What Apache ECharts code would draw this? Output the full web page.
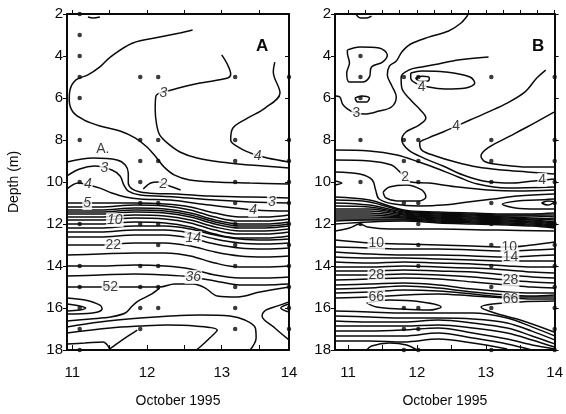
<!DOCTYPE html>
<html>
<head>
<meta charset="utf-8">
<script src="https://cdn.jsdelivr.net/npm/echarts@6.0.0/dist/echarts.min.js"></script>
<style>
  html, body { margin: 0; padding: 0; background: #fff; }
  #chart { width: 566px; height: 414px; }
</style>
</head>
<body>
<div id="chart"></div>
<script>
// ---------- panel A (left) ----------
const aTickDays = [11, 12, 13, 13.9];
const aTickText = ["11", "12", "13", "14"];
const aMinorDays = [11, 11.5, 12, 12.5, 13, 13.5];

// contours that wander, as [day, depth]
const aTopWiggle = [[11.21, 2.14], [11.28, 2.19], [11.37, 2.14]];
const aOuter3 = [[12.61, 2.76], [12.44, 2.9], [12.17, 3.1], [11.81, 3.38], [11.51, 4.05], [11.37, 4.52], [11.21, 4.9], [11.05, 5.14], [10.97, 5.62], [10.96, 6.1], [11.01, 6.67], [11.16, 7.05], [11.37, 7.33], [11.64, 7.57], [11.84, 7.9], [12.0, 8.33], [12.12, 8.81], [12.23, 9.29], [12.37, 9.67], [12.57, 9.9], [12.91, 10.0], [13.38, 10.05], [13.9, 10.1]];
const aInner3 = [[13.0, 3.95], [13.08, 4.43], [13.12, 4.86], [13.08, 5.05], [12.71, 5.29], [12.33, 5.62], [12.12, 5.9], [12.11, 6.57], [12.13, 7.29], [12.17, 7.76], [12.27, 8.14], [12.44, 8.57], [12.67, 8.86], [12.98, 9.05], [13.38, 9.19], [13.9, 9.33]];
const aRight4 = [[13.71, 4.29], [13.69, 4.76], [13.78, 5.76], [13.58, 6.48], [13.35, 6.95], [13.15, 7.43], [13.12, 8.0], [13.24, 8.38], [13.42, 8.67], [13.61, 8.86], [13.9, 9.05]];
const aLineA = [[10.93, 9.05], [11.28, 8.86], [11.6, 8.95], [11.71, 9.19], [11.75, 9.57], [11.75, 10.05], [11.8, 10.33], [11.91, 10.48], [12.1, 10.55], [12.4, 10.57], [12.84, 10.67], [13.38, 10.71], [13.9, 10.76]];
const aLeft3 = [[10.93, 9.71], [11.1, 9.38], [11.3, 9.24], [11.53, 9.43], [11.64, 9.71], [11.69, 10.14], [11.75, 10.43], [11.91, 10.62], [12.37, 10.71], [12.91, 10.86], [13.38, 10.95], [13.9, 11.0]];
const aLeft4 = [[10.93, 10.33], [11.08, 10.05], [11.21, 10.14], [11.37, 10.29], [11.53, 10.52], [11.71, 10.71], [11.91, 10.81], [12.31, 10.86], [12.84, 11.1], [13.45, 11.33], [13.9, 11.38]];
const aTwo = [[11.95, 10.33], [12.05, 10.05], [12.15, 10.0], [12.3, 10.19], [12.45, 10.38]];
const a52 = [[10.93, 15.0], [11.37, 15.0], [11.91, 15.0], [12.17, 15.0], [12.37, 14.86], [12.62, 14.86], [12.78, 15.05], [12.94, 15.43], [13.21, 15.48], [13.51, 15.24], [13.9, 15.0]];
const aDown52 = [[12.17, 15.05], [12.04, 15.38], [11.88, 15.67], [11.79, 15.95], [11.71, 16.24], [11.51, 16.43], [11.24, 16.52], [10.93, 16.62]];
const aEyeOuter = [[10.93, 15.52], [11.17, 15.62], [11.37, 15.86], [11.4, 16.05], [11.27, 16.24], [10.93, 16.29]];
const aEyeInner = [[10.93, 15.81], [11.1, 15.9], [11.18, 16.0], [11.1, 16.1], [10.93, 16.14]];
const aLowC = [[10.93, 16.9], [11.37, 16.67], [11.91, 16.48], [12.31, 16.38], [12.71, 16.33], [13.11, 16.38], [13.31, 16.57], [13.45, 16.95], [13.46, 17.43], [13.38, 18.0]];
const aLowD = [[10.93, 17.19], [11.51, 16.95], [11.91, 16.86], [12.27, 16.81], [12.64, 16.86], [12.94, 17.05], [12.84, 17.43], [12.71, 17.86], [12.66, 18.0]];
const aLowE = [[11.48, 18.0], [11.61, 17.67], [11.75, 17.33], [11.87, 17.05]];
const aLowF = [[10.93, 17.71], [11.17, 17.67], [11.41, 17.62], [11.51, 18.0]];
const aRightV = [[13.9, 17.52], [13.71, 16.95], [13.54, 16.38], [13.59, 16.1], [13.75, 15.9], [13.9, 15.71]];
const aRightVin = [[13.9, 16.19], [13.79, 16.0], [13.9, 15.81]];

// near-horizontal contours on shared days
const aBandDays = [10.93, 11.37, 11.84, 12.24, 12.58, 12.91, 13.24, 13.58, 13.9];
const aBandDepths = [
  [11.0, 11.0, 11.0, 11.05, 11.19, 11.48, 11.67, 11.67, 11.57],
  [11.19, 11.19, 11.1, 11.14, 11.33, 11.67, 11.86, 11.86, 11.76],
  [11.33, 11.33, 11.24, 11.29, 11.48, 11.81, 12.0, 12.0, 11.9],
  [11.43, 11.43, 11.33, 11.38, 11.57, 11.9, 12.1, 12.1, 12.0],
  [11.52, 11.52, 11.43, 11.48, 11.67, 12.0, 12.19, 12.19, 12.1],
  [11.67, 11.67, 11.57, 11.62, 11.81, 12.14, 12.33, 12.33, 12.24],
  [11.81, 11.81, 11.71, 11.76, 11.95, 12.29, 12.48, 12.48, 12.38],
  [12.0, 12.0, 11.9, 11.95, 12.14, 12.48, 12.67, 12.67, 12.57],
  [12.19, 12.19, 12.1, 12.1, 12.24, 12.52, 12.71, 12.76, 12.71],
  [12.38, 12.38, 12.29, 12.29, 12.43, 12.71, 12.9, 12.95, 12.9],
  [12.62, 12.62, 12.52, 12.52, 12.67, 12.95, 13.14, 13.19, 13.14],
  [13.0, 13.0, 12.9, 12.9, 13.05, 13.33, 13.52, 13.57, 13.52],
  [13.48, 13.43, 13.38, 13.38, 13.52, 13.86, 14.05, 14.05, 14.0],
  [14.0, 14.0, 13.95, 14.0, 14.14, 14.43, 14.57, 14.57, 14.52],
  [14.48, 14.43, 14.38, 14.43, 14.52, 14.71, 14.9, 14.9, 14.86]
];

const aDotDays = [11.1, 11.91, 12.15, 13.18, 13.9];
const aDotDepths = [
  [2, 3, 4, 5, 6, 8, 10, 12, 14, 15, 16, 17, 18],
  [5, 8, 9, 10, 11, 12, 14, 15, 16, 17],
  [5, 8, 9, 11, 12, 13, 14, 15, 16],
  [5, 8, 9, 10, 11, 12, 13, 14, 15, 16, 17],
  [5, 8, 9, 10, 11, 12, 13, 14, 15, 16, 17]
];
const aLabelsItalic = [[12.22, 5.76, "3"], [13.48, 8.76, "4"], [11.43, 9.32, "3"], [11.21, 10.12, "4"], [12.22, 10.08, "2"], [13.67, 10.97, "3"], [13.42, 11.35, "4"], [11.2, 11.0, "5"], [11.57, 11.81, "10"], [12.62, 12.67, "14"], [12.62, 14.52, "36"]];
const aLabelsUpright = [[11.41, 8.42, "A."], [11.55, 13.0, "22"], [11.51, 15.0, "52"]];

// ---------- panel B (right) ----------
const bTickDays = [11, 12, 13, 14];
const bTickText = ["11", "12", "13", "14"];
const bMinorDays = [11, 11.5, 12, 12.5, 13, 13.5, 14];
const bTopDays = [11, 11.25, 11.5, 11.75, 12, 12.25, 12.5, 12.75, 13, 13.25, 13.5, 13.75, 14];

const bTopLoop = [[11.12, 2.05], [11.18, 2.19], [11.27, 2.19], [11.34, 2.1]];
const bLoop45 = [[10.99, 3.71], [11.17, 3.57], [11.45, 3.62], [11.57, 3.95], [11.5, 4.29], [11.34, 4.52], [11.31, 5.0], [11.21, 5.24], [11.02, 5.24], [10.98, 4.81], [11.02, 4.33], [10.99, 3.86], [10.99, 3.71]];
const bLoop6 = [[11.1, 6.0], [11.2, 5.9], [11.31, 6.0], [11.27, 6.19], [11.14, 6.19], [11.1, 6.0]];
const b3 = [[10.81, 5.9], [10.88, 5.95], [10.92, 6.29], [10.99, 6.52], [11.1, 6.71], [11.24, 6.76], [11.45, 6.62], [11.63, 6.43], [11.7, 5.95], [11.63, 5.38], [11.57, 4.9], [11.6, 4.48], [11.7, 4.24], [11.78, 3.81], [11.91, 3.43], [12.17, 3.1], [12.46, 2.81], [12.64, 2.43], [12.74, 2.05]];
const bLoop5 = [[11.91, 4.81], [12.07, 4.71], [12.41, 4.76], [12.77, 5.0], [12.84, 5.29], [12.71, 5.52], [12.41, 5.57], [12.17, 5.48], [11.98, 5.29], [11.91, 5.05], [11.91, 4.81]];
const bLoop5in = [[11.98, 5.05], [12.07, 4.97], [12.18, 5.03], [12.16, 5.19], [12.04, 5.2], [11.98, 5.05]];
const b4a = [[13.04, 4.05], [12.6, 4.19], [12.31, 4.38], [12.07, 4.52], [11.88, 4.67], [11.77, 5.0], [11.78, 5.52], [11.91, 6.1], [12.05, 6.57], [12.13, 6.95], [12.03, 7.29], [11.84, 7.62], [11.78, 8.0], [11.88, 8.48], [12.1, 8.86], [12.38, 9.24], [12.67, 9.67], [12.96, 9.95], [13.39, 10.05], [13.7, 9.95], [13.99, 9.86]];
const b4b = [[13.87, 4.67], [13.74, 5.05], [13.57, 5.71], [13.31, 6.24], [13.03, 6.67], [12.77, 7.05], [12.38, 7.62], [12.17, 7.9], [12.04, 8.14], [12.07, 8.48], [12.27, 8.76], [12.56, 9.05], [12.88, 9.29], [13.24, 9.43], [13.6, 9.52], [13.99, 9.62]];
const bU = [[13.99, 6.67], [13.6, 7.38], [13.27, 7.95], [13.03, 8.38], [12.93, 8.76], [13.0, 9.05], [13.24, 9.19], [13.6, 9.29], [13.99, 9.29]];
const bMid1 = [[10.81, 8.48], [11.31, 8.52], [11.71, 8.71], [12.03, 9.05], [12.31, 9.38], [12.6, 9.76], [12.88, 10.1], [13.31, 10.29], [13.99, 10.24]];
const bMid2 = [[10.81, 8.95], [11.31, 9.0], [11.63, 9.19], [11.74, 9.48], [11.83, 9.76], [11.91, 10.0], [12.17, 10.05], [12.6, 10.24], [13.03, 10.38], [13.46, 10.43], [13.99, 10.38]];
const bMid3 = [[10.81, 9.52], [11.17, 9.62], [11.35, 9.9], [11.4, 10.38], [11.45, 10.81], [11.67, 11.05], [12.03, 11.14], [12.38, 11.1], [12.74, 10.95], [13.1, 10.81], [13.46, 10.67], [13.99, 10.57]];
const bEye10 = [[11.51, 10.48], [11.6, 10.24], [11.84, 10.14], [12.07, 10.38], [12.13, 10.71], [12.03, 10.9], [11.71, 10.9], [11.55, 10.76], [11.51, 10.48]];
const bEdgeV = [[10.81, 9.95], [10.91, 10.05], [10.81, 10.14]];
const bRightU = [[13.99, 10.81], [13.74, 10.86], [13.46, 10.9], [13.24, 11.05], [13.43, 11.24], [13.74, 11.29], [13.99, 11.29]];
const bRightDot = [[13.81, 11.0], [13.9, 10.9], [13.99, 10.95], [13.9, 11.1], [13.81, 11.0]];
const bWiggle = [[10.81, 12.33], [11.02, 12.19], [11.17, 12.0], [11.28, 12.14], [11.6, 12.24], [12.31, 12.24], [13.17, 12.29], [13.99, 12.33]];
const bEye16 = [[11.27, 15.76], [11.6, 15.62], [12.07, 15.71], [12.35, 15.95], [12.17, 16.1], [11.78, 16.05], [11.41, 15.95], [11.27, 15.76]];
const bNose = [[13.99, 15.67], [13.5, 15.71], [13.1, 15.81], [12.93, 15.95], [13.13, 16.24], [13.5, 16.57], [13.99, 17.14]];
const bBottomLoop = [[11.27, 18.0], [11.34, 17.81], [11.6, 17.67], [11.85, 17.76], [12.0, 18.0]];

const bBandDays = [10.81, 11.31, 11.81, 12.31, 12.81, 13.31, 13.67, 14.0];
const bBandDepths = [
  [10.71, 10.86, 11.33, 11.43, 11.48, 11.52, 11.52, 11.48],
  [10.86, 10.95, 11.38, 11.48, 11.52, 11.57, 11.57, 11.57],
  [11.0, 11.1, 11.43, 11.52, 11.57, 11.62, 11.62, 11.67],
  [11.14, 11.19, 11.48, 11.57, 11.62, 11.67, 11.71, 11.76],
  [11.29, 11.29, 11.52, 11.62, 11.67, 11.71, 11.76, 11.81],
  [11.38, 11.38, 11.57, 11.67, 11.71, 11.76, 11.81, 11.9],
  [11.48, 11.48, 11.62, 11.71, 11.76, 11.81, 11.86, 11.95],
  [11.57, 11.57, 11.67, 11.76, 11.81, 11.86, 11.9, 12.0],
  [11.67, 11.67, 11.71, 11.81, 11.86, 11.9, 11.95, 12.05],
  [11.76, 11.76, 11.76, 11.86, 11.9, 11.95, 12.0, 12.1],
  [11.86, 11.81, 11.81, 11.9, 11.95, 12.0, 12.05, 12.14],
  [12.0, 11.9, 11.86, 11.95, 12.0, 12.05, 12.1, 12.19],
  [12.76, 12.9, 12.95, 13.0, 13.05, 13.1, 13.0, 12.86],
  [13.1, 13.14, 13.19, 13.19, 13.24, 13.29, 13.24, 13.19],
  [13.33, 13.43, 13.48, 13.48, 13.52, 13.57, 13.52, 13.48],
  [13.57, 13.62, 13.62, 13.67, 13.71, 13.76, 13.76, 13.76],
  [13.81, 13.86, 13.81, 13.86, 13.9, 14.0, 14.05, 14.05],
  [14.05, 14.05, 14.0, 14.05, 14.1, 14.19, 14.29, 14.33],
  [14.24, 14.24, 14.19, 14.24, 14.29, 14.43, 14.52, 14.57],
  [14.43, 14.43, 14.38, 14.43, 14.52, 14.67, 14.76, 14.81],
  [14.67, 14.62, 14.57, 14.62, 14.76, 14.9, 15.0, 15.05],
  [14.9, 14.86, 14.81, 14.9, 15.1, 15.24, 15.29, 15.29],
  [15.1, 15.05, 14.95, 15.05, 15.24, 15.38, 15.43, 15.38],
  [15.29, 15.24, 15.14, 15.19, 15.33, 15.48, 15.48, 15.48],
  [15.52, 15.48, 15.38, 15.33, 15.43, 15.52, 15.57, 15.57],
  [16.14, 16.19, 16.24, 16.24, 16.24, 16.48, 16.9, 17.33],
  [16.38, 16.43, 16.48, 16.48, 16.52, 16.71, 17.1, 17.52],
  [16.62, 16.67, 16.67, 16.57, 16.71, 16.95, 17.33, 17.71],
  [16.86, 16.86, 16.86, 16.81, 16.95, 17.19, 17.52, 17.86],
  [17.1, 17.1, 17.05, 16.95, 17.19, 17.48, 17.76, 17.95],
  [17.33, 17.33, 17.33, 17.19, 17.43, 17.71, 18.0],
  [17.57, 17.57, 17.62, 17.48, 17.67, 17.95]
];

const bDotDays = [11.18, 11.81, 12.02, 13.08, 14.0];
const bDotDepths = [
  [4, 5, 6, 8, 10, 12],
  [5, 8, 9, 11, 16, 17, 18],
  [5, 8, 9, 10, 11, 12, 13, 14, 16, 17, 18],
  [5, 8, 9, 10, 11, 12, 13, 14, 15, 16, 18],
  [5, 8, 9, 10, 11, 12, 13, 14, 15, 16, 17, 18]
];
const bLabels = [[11.12, 6.71, "3"], [12.07, 5.5, "4"], [12.57, 7.36, "4"], [13.82, 9.9, "4"], [11.83, 9.78, "2"], [11.41, 12.9, "10"], [13.34, 13.1, "10"], [13.36, 13.57, "14"], [11.41, 14.43, "28"], [13.36, 14.67, "28"], [11.41, 15.48, "66"], [13.36, 15.6, "66"]];

// ---------- chart ----------
const INK = "#0a0a0a";
const FONT = "Liberation Sans, Arial, sans-serif";
const aCurves = [aTopWiggle, aOuter3, aInner3, aRight4, aLineA, aLeft3, aLeft4, aTwo, a52, aDown52, aEyeOuter, aEyeInner, aLowC, aLowD, aLowE, aLowF, aRightV, aRightVin];
const bCurves = [bTopLoop, bLoop45, bLoop6, b3, bLoop5, bLoop5in, b4a, b4b, bU, bMid1, bMid2, bMid3, bEye10, bEdgeV, bRightU, bRightDot, bWiggle, bEye16, bNose, bBottomLoop];

const series = [];

function addCurve(points, g) {
  series.push({
    type: "line",
    xAxisIndex: g * 2,
    yAxisIndex: g * 2,
    data: points,
    smooth: 0.35,
    symbol: "none",
    silent: true,
    animation: false,
    lineStyle: { color: INK, width: 1.5 },
    z: 2
  });
}

function addDots(days, depths, g) {
  const pts = [];
  days.forEach((d, i) => depths[i].forEach((v) => pts.push([d, v])));
  series.push({
    type: "scatter",
    xAxisIndex: g * 2,
    yAxisIndex: g * 2,
    data: pts,
    symbolSize: 4.5,
    itemStyle: { color: INK },
    silent: true,
    animation: false,
    z: 3
  });
}

function addLabels(list, g, italic) {
  series.push({
    type: "scatter",
    xAxisIndex: g * 2,
    yAxisIndex: g * 2,
    data: list,
    symbolSize: 1,
    itemStyle: { color: "rgba(0,0,0,0)" },
    silent: true,
    animation: false,
    z: 5,
    label: {
      show: true,
      position: "inside",
      formatter: (p) => p.data[2],
      color: INK,
      fontSize: 14,
      fontFamily: FONT,
      fontStyle: italic ? "italic" : "normal",
      backgroundColor: "#fff",
      padding: [0, 1]
    }
  });
}

aCurves.forEach((c) => addCurve(c, 0));
aBandDepths.forEach((row) => addCurve(row.map((v, i) => [aBandDays[i], v]), 0));
bCurves.forEach((c) => addCurve(c, 1));
bBandDepths.forEach((row) => addCurve(row.map((v, i) => [bBandDays[i], v]), 1));
addDots(aDotDays, aDotDepths, 0);
addDots(bDotDays, bDotDepths, 1);
addLabels(aLabelsItalic, 0, true);
addLabels(aLabelsUpright, 0, false);
addLabels(bLabels, 1, false);

const axisLine = { show: true, lineStyle: { color: INK, width: 2 } };

function xAxes(g, min, max, tickDays, tickText, minorDays, topDays) {
  return [
    {
      type: "value", gridIndex: g, min, max, position: "bottom",
      axisLine,
      splitLine: { show: false },
      axisTick: { show: true, inside: true, length: 5, customValues: minorDays, lineStyle: { color: INK } },
      axisLabel: {
        customValues: tickDays,
        formatter: (v) => tickText[tickDays.indexOf(v)] || String(Math.round(v)),
        color: INK, fontSize: 15, fontFamily: FONT, margin: 15
      },
      name: "October 1995",
      nameLocation: "middle",
      nameGap: 44,
      nameTextStyle: { color: INK, fontSize: 14, fontFamily: FONT }
    },
    {
      type: "value", gridIndex: g, min, max, position: "top",
      axisLine,
      splitLine: { show: false },
      axisTick: { show: true, inside: false, length: 4, customValues: topDays, lineStyle: { color: INK } },
      axisLabel: { show: false }
    }
  ];
}

function yAxes(g, withName) {
  return [
    {
      type: "value", gridIndex: g, min: 2, max: 18, interval: 2, inverse: true, position: "left",
      axisLine,
      splitLine: { show: false },
      axisTick: { show: true, inside: false, length: 4, lineStyle: { color: INK } },
      axisLabel: { color: INK, fontSize: 15, fontFamily: FONT, margin: 4 },
      name: withName ? "Depth (m)" : "",
      nameLocation: "middle",
      nameGap: 46,
      nameTextStyle: { color: INK, fontSize: 14, fontFamily: FONT }
    },
    {
      type: "value", gridIndex: g, min: 2, max: 18, interval: 2, inverse: true, position: "right",
      axisLine,
      splitLine: { show: false },
      axisTick: { show: true, inside: g === 0, length: 4, lineStyle: { color: INK } },
      axisLabel: { show: false }
    }
  ];
}

const chart = echarts.init(document.getElementById("chart"));
chart.setOption({
  backgroundColor: "#fff",
  animation: false,
  title: [
    { text: "A", left: 251, top: 33, textStyle: { fontSize: 17, fontWeight: "bold", color: INK, fontFamily: FONT } },
    { text: "B", left: 527, top: 33, textStyle: { fontSize: 17, fontWeight: "bold", color: INK, fontFamily: FONT } }
  ],
  grid: [
    { left: 67, right: 277, top: 14, bottom: 64 },
    { left: 335, right: 8, top: 14, bottom: 64 }
  ],
  xAxis: [
    ...xAxes(0, 10.93, 13.9, aTickDays, aTickText, aMinorDays, aMinorDays),
    ...xAxes(1, 10.81, 14.0, bTickDays, bTickText, bMinorDays, bTopDays)
  ],
  yAxis: [...yAxes(0, true), ...yAxes(1, false)],
  series
});
</script>
</body>
</html>
